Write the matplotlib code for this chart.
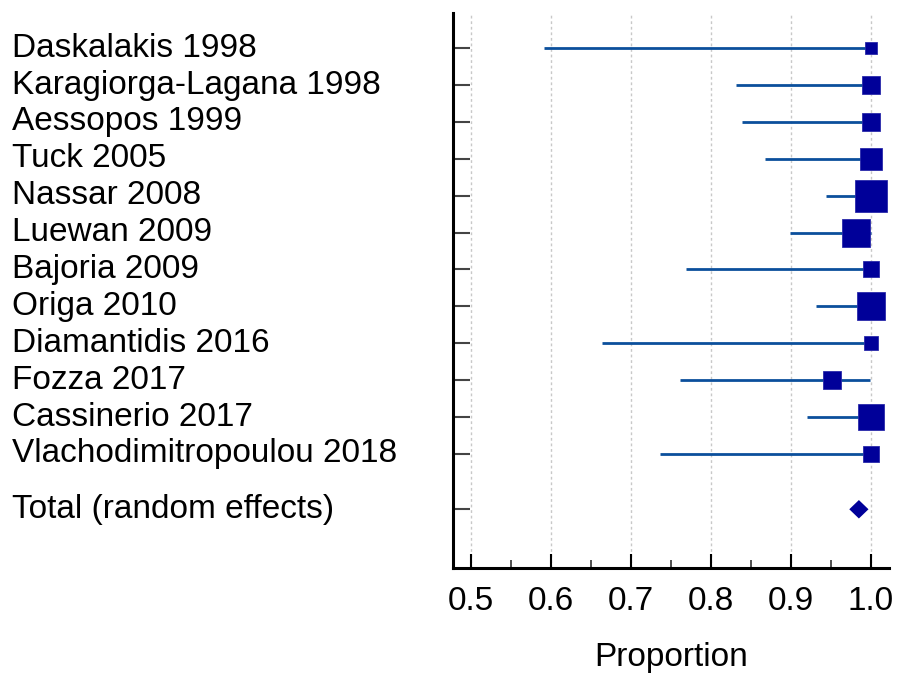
import matplotlib
matplotlib.use("Agg")
import matplotlib.pyplot as plt
from matplotlib.transforms import blended_transform_factory
from matplotlib.ticker import MultipleLocator
import numpy as np

plt.rcParams['font.family'] = ['Liberation Sans', 'DejaVu Sans']

studies = ["Daskalakis 1998", "Karagiorga-Lagana 1998", "Aessopos 1999", "Tuck 2005",
           "Nassar 2008", "Luewan 2009", "Bajoria 2009", "Origa 2010",
           "Diamantidis 2016", "Fozza 2017", "Cassinerio 2017",
           "Vlachodimitropoulou 2018"]
estimate = [1.0, 1.0, 1.0, 1.0, 1.0, 0.981, 1.0, 1.0, 1.0, 0.952, 1.0, 1.0]
ci_low = [0.591, 0.832, 0.839, 0.868, 0.9445, 0.899, 0.769, 0.931, 0.664, 0.762, 0.920, 0.736]
ci_high = [1.0, 1.0, 1.0, 1.0, 1.0, 1.0, 1.0, 1.0, 1.0, 0.999, 1.0, 1.0]
weights = [2.4, 5.9, 5.9, 8.3, 17.8, 14.2, 5.1, 13.9, 3.1, 6.2, 12.6, 4.4]

total_label = "Total (random effects)"
total_est = 0.985
total_low = 0.973
total_high = 0.997

xticks = [0.5, 0.6, 0.7, 0.8, 0.9, 1.0]
xlabel = "Proportion"

FS = 24

fig = plt.figure(figsize=(8.98, 6.80), dpi=100)
ax = fig.add_axes([452.7/898, 1 - 568.3/680, (889.3-452.7)/898, (568.3-12.7)/680])

ypos = np.arange(1, len(studies) + 1)
total_y = len(studies) + 1.5

line_col = '#0B4F9C'
sq_col = '#000099'

for x in xticks:
    ax.axvline(x, color='#c8c8c8', lw=1.0, ls=(0, (2, 2)), zorder=0)

ax.hlines(ypos, ci_low, ci_high, color=line_col, lw=2.0, zorder=2)
# square sizes proportional to sqrt(weight)
sizes_px = np.sqrt(np.array(weights) / 100 * 5643)
for y, e, s in zip(ypos, estimate, sizes_px):
    ax.plot([e], [y], marker='s', ms=s * 0.72, color=sq_col, mec='#2a2aaa', mew=0.6, zorder=3)

h = 0.25
ax.fill([total_low, total_est, total_high, total_est],
        [total_y, total_y - h, total_y, total_y + h], color=sq_col, zorder=3, lw=0)

ax.set_xlim(0.4775, 1.023)
ax.set_ylim(15.1, 0.04)

ax.set_yticks(list(ypos) + [total_y])
ax.set_yticklabels([])
ax.tick_params(axis='y', direction='in', length=12, width=1.5, color='#444444')

ax.set_xticks(xticks)
ax.set_xticklabels([f"{x:.1f}" for x in xticks], fontsize=FS)
ax.xaxis.set_minor_locator(MultipleLocator(0.05))
ax.tick_params(axis='x', which='major', direction='in', length=10, width=1.5, color='black', pad=13)
ax.tick_params(axis='x', which='minor', direction='in', length=5.5, width=1.2, color='#333333')
ax.set_xlabel(xlabel, fontsize=FS, labelpad=18)

for side in ['top', 'right']:
    ax.spines[side].set_visible(False)
for side in ['left', 'bottom']:
    ax.spines[side].set_linewidth(2.2)
    ax.spines[side].set_color('black')

trans = blended_transform_factory(fig.transFigure, ax.transData)
for y, name in zip(ypos, studies):
    ax.text(12/898, y, name, transform=trans, ha='left', va='center', fontsize=FS)
ax.text(12/898, total_y, total_label, transform=trans, ha='left', va='center', fontsize=FS)

fig.savefig("out.png", dpi=100)
